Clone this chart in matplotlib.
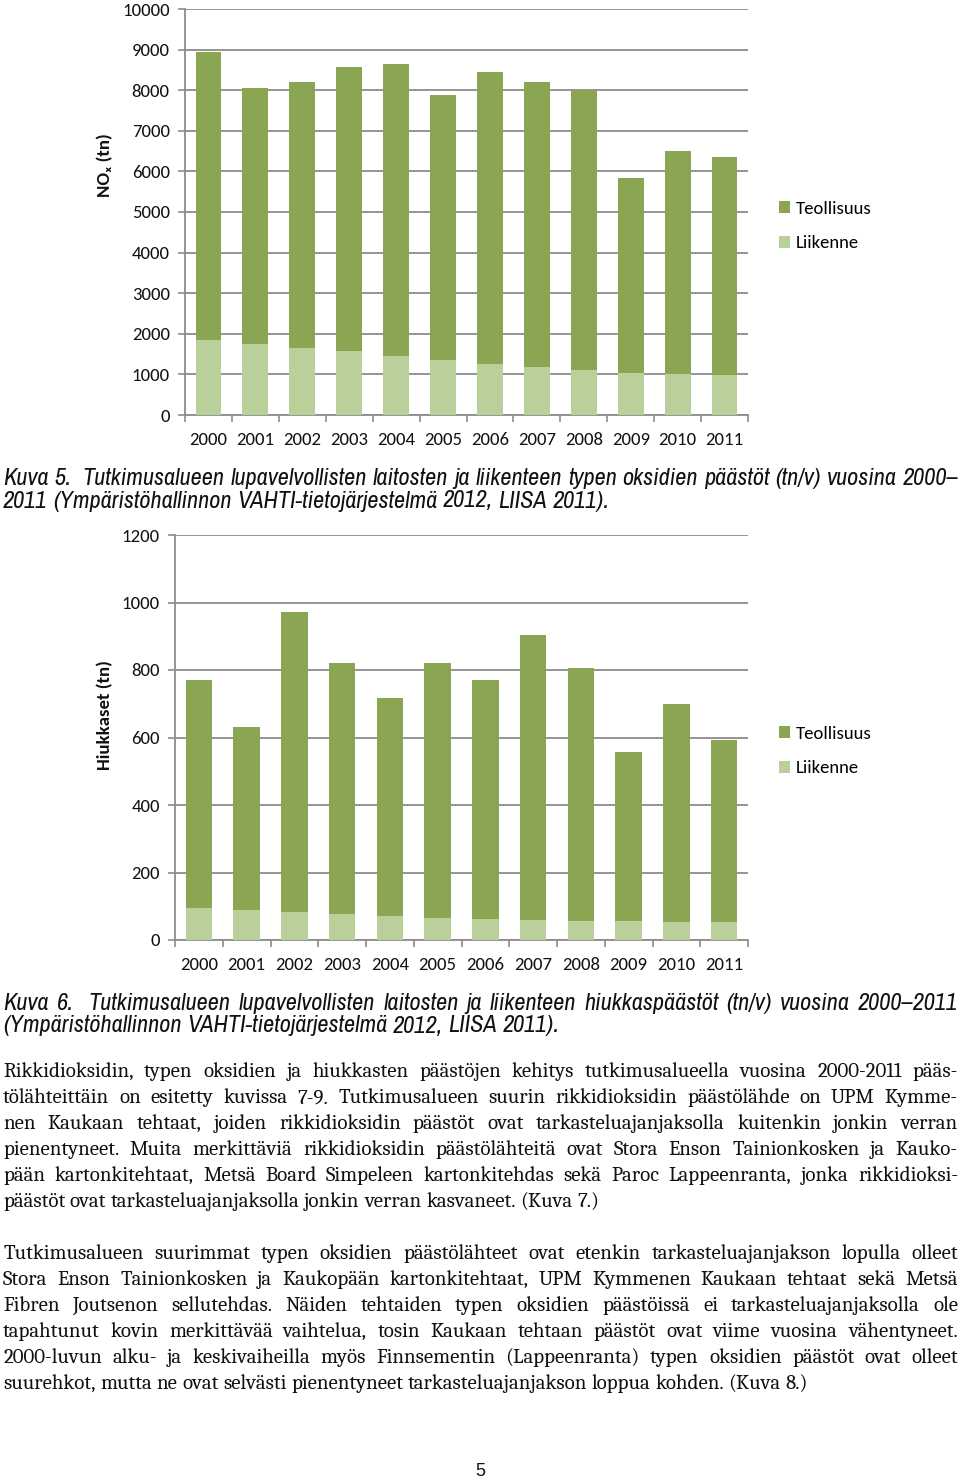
import matplotlib
matplotlib.use("Agg")
import matplotlib.pyplot as plt
from matplotlib.patches import Patch
import numpy as np

years = ["2000", "2001", "2002", "2003", "2004", "2005", "2006", "2007", "2008", "2009", "2010", "2011"]

# NOx (tn): totals and traffic part
nox_total = [8950, 8050, 8210, 8560, 8650, 7880, 8460, 8190, 8000, 5840, 6510, 6350]
nox_liikenne = [1855, 1750, 1650, 1570, 1445, 1355, 1255, 1190, 1115, 1045, 1010, 985]
nox_teollisuus = [t - l for t, l in zip(nox_total, nox_liikenne)]

# Particles (tn)
hiuk_total = [769, 631, 972, 822, 718, 820, 769, 905, 806, 556, 700, 593]
hiuk_liikenne = [96, 89, 82, 78, 71, 66, 61, 59, 56, 55, 54, 52]
hiuk_teollisuus = [t - l for t, l in zip(hiuk_total, hiuk_liikenne)]

series_labels = ["Teollisuus", "Liikenne"]

DARK = "#8aa652"
LIGHT = "#bad09b"
GRID = "#8c8c8c"

W, H = 960, 1482
fig = plt.figure(figsize=(W / 100, H / 100), dpi=100)
CHART_FONT = ["Carlito", "Lato", "DejaVu Sans"]
CAP_FONT = ["Liberation Sans Narrow", "Archivo Narrow", "Liberation Sans", "DejaVu Sans"]
BODY_FONT = ["Caladea", "Liberation Serif", "DejaVu Serif"]


def fx(px):
    return px / W


def fy(py):
    return 1 - py / H


def make_chart(rect, teol, liik, ymax, ystep, ylabel, ylabel_y, legend_y):
    ax = fig.add_axes(rect)
    x = np.arange(len(years))
    ax.bar(x, liik, width=0.55, color=LIGHT, linewidth=0, zorder=3)
    ax.bar(x, teol, bottom=liik, width=0.55, color=DARK, linewidth=0, zorder=3)
    ax.set_xlim(-0.5, len(years) - 0.5)
    ax.set_ylim(0, ymax)
    ax.set_yticks(np.arange(0, ymax + 1, ystep))
    ax.yaxis.grid(True, color=GRID, linewidth=1.3, zorder=0)
    ax.set_axisbelow(True)
    for s in ["top", "right"]:
        ax.spines[s].set_visible(False)
    for s in ["left", "bottom"]:
        ax.spines[s].set_color(GRID)
        ax.spines[s].set_linewidth(1.3)
    ax.set_xticks(x)
    ax.set_xticklabels(years, family=CHART_FONT, fontsize=13.5, color="#111111")
    ax.set_xticks(np.arange(-0.5, len(years)), minor=True)
    ax.tick_params(axis="x", which="major", length=0, pad=12)
    ax.tick_params(axis="x", which="minor", length=5, color=GRID, width=1.2)
    ax.tick_params(axis="y", length=5, color=GRID, width=1.2, pad=6)
    for lab in ax.get_yticklabels():
        lab.set_family(CHART_FONT)
        lab.set_fontsize(13.5)
        lab.set_color("#111111")
    fig.text(fx(105), fy(ylabel_y), ylabel, rotation=90, ha="center", va="center",
             family=CHART_FONT, fontsize=13.5, fontweight="bold", color="#111111")
    handles = [Patch(facecolor=DARK, edgecolor="none"), Patch(facecolor=LIGHT, edgecolor="none")]
    ax.legend(handles, series_labels, loc="center left", bbox_to_anchor=(fx(762), fy(legend_y)),
              bbox_transform=fig.transFigure, frameon=False, handlelength=0.6, handleheight=0.6,
              labelspacing=1.0, handletextpad=0.3, prop={"family": CHART_FONT, "size": 13.5})
    return ax


make_chart([fx(185), fy(415), fx(748) - fx(185), fy(9) - fy(415)],
           nox_teollisuus, nox_liikenne, 10000, 1000, "NOₓ (tn)", 165, 226)
make_chart([fx(175), fy(940), fx(748) - fx(175), fy(535) - fy(940)],
           hiuk_teollisuus, hiuk_liikenne, 1200, 200, "Hiukkaset (tn)", 715, 751)

renderer = fig.canvas.get_renderer()


def natural_width(text, **kw):
    t = fig.text(0, 0, text, **kw)
    w = t.get_window_extent(renderer).width
    t.remove()
    return w


def fit_size(lines, base, target, **kw):
    widths = [natural_width(l, fontsize=base, **kw) for l in lines]
    return base * target / max(widths)


def draw_line(text, y, x0=3, x1=958, justify=True, **kw):
    words = text.split(" ")
    arts = [fig.text(0, fy(y), w, va="center", ha="left", **kw) for w in words]
    widths = [a.get_window_extent(renderer).width for a in arts]
    if justify and len(words) > 1:
        gap = (x1 - x0 - sum(widths)) / (len(words) - 1)
    else:
        gap = natural_width("a a", **kw) - natural_width("aa", **kw)
    xx = x0
    for a, w in zip(arts, widths):
        a.set_x(fx(xx))
        xx += w + gap


cap1 = ["Kuva 5.  Tutkimusalueen lupavelvollisten laitosten ja liikenteen typen oksidien päästöt (tn/v) vuosina 2000–",
        "2011 (Ympäristöhallinnon VAHTI-tietojärjestelmä 2012, LIISA 2011)."]
cap2 = ["Kuva 6.  Tutkimusalueen lupavelvollisten laitosten ja liikenteen hiukkaspäästöt (tn/v) vuosina 2000–2011",
        "(Ympäristöhallinnon VAHTI-tietojärjestelmä 2012, LIISA 2011)."]

para1 = [
    "Rikkidioksidin, typen oksidien ja hiukkasten päästöjen kehitys tutkimusalueella vuosina 2000-2011 pääs-",
    "tölähteittäin on esitetty kuvissa 7-9. Tutkimusalueen suurin rikkidioksidin päästölähde on UPM Kymme-",
    "nen Kaukaan tehtaat, joiden rikkidioksidin päästöt ovat tarkasteluajanjaksolla kuitenkin jonkin verran",
    "pienentyneet. Muita merkittäviä rikkidioksidin päästölähteitä ovat Stora Enson Tainionkosken ja Kauko-",
    "pään kartonkitehtaat, Metsä Board Simpeleen kartonkitehdas sekä Paroc Lappeenranta, jonka rikkidioksi-",
    "päästöt ovat tarkasteluajanjaksolla jonkin verran kasvaneet. (Kuva 7.)",
]
para2 = [
    "Tutkimusalueen suurimmat typen oksidien päästölähteet ovat etenkin tarkasteluajanjakson lopulla olleet",
    "Stora Enson Tainionkosken ja Kaukopään kartonkitehtaat, UPM Kymmenen Kaukaan tehtaat sekä Metsä",
    "Fibren Joutsenon sellutehdas. Näiden tehtaiden typen oksidien päästöissä ei tarkasteluajanjaksolla ole",
    "tapahtunut kovin merkittävää vaihtelua, tosin Kaukaan tehtaan päästöt ovat viime vuosina vähentyneet.",
    "2000-luvun alku- ja keskivaiheilla myös Finnsementin (Lappeenranta) typen oksidien päästöt ovat olleet",
    "suurehkot, mutta ne ovat selvästi pienentyneet tarkasteluajanjakson loppua kohden. (Kuva 8.)",
]

cap_base = dict(family=CAP_FONT, style="italic", color="#111111")
cap_size = min(fit_size([cap1[0]], 12, 950, **cap_base), 18)
cap_kw = dict(fontsize=cap_size, **cap_base)

body_base = dict(family=BODY_FONT, color="#111111")
body_size = min(fit_size(para1[:-1] + para2[:-1], 12, 950, **body_base), 15)
body_kw = dict(fontsize=body_size, **body_base)

draw_line(cap1[0], 478, **cap_kw)
draw_line(cap1[1], 501, justify=False, **cap_kw)
draw_line(cap2[0], 1003, **cap_kw)
draw_line(cap2[1], 1026, justify=False, **cap_kw)

for i, line in enumerate(para1):
    draw_line(line, 1072 + 26 * i, justify=(i < len(para1) - 1), **body_kw)
for i, line in enumerate(para2):
    draw_line(line, 1254 + 26 * i, justify=(i < len(para2) - 1), **body_kw)

fig.text(fx(480), fy(1472), "5", ha="center", va="center", family=["Liberation Sans", "DejaVu Sans"],
         fontsize=13, color="#111111")

fig.savefig("out.png", dpi=100)
